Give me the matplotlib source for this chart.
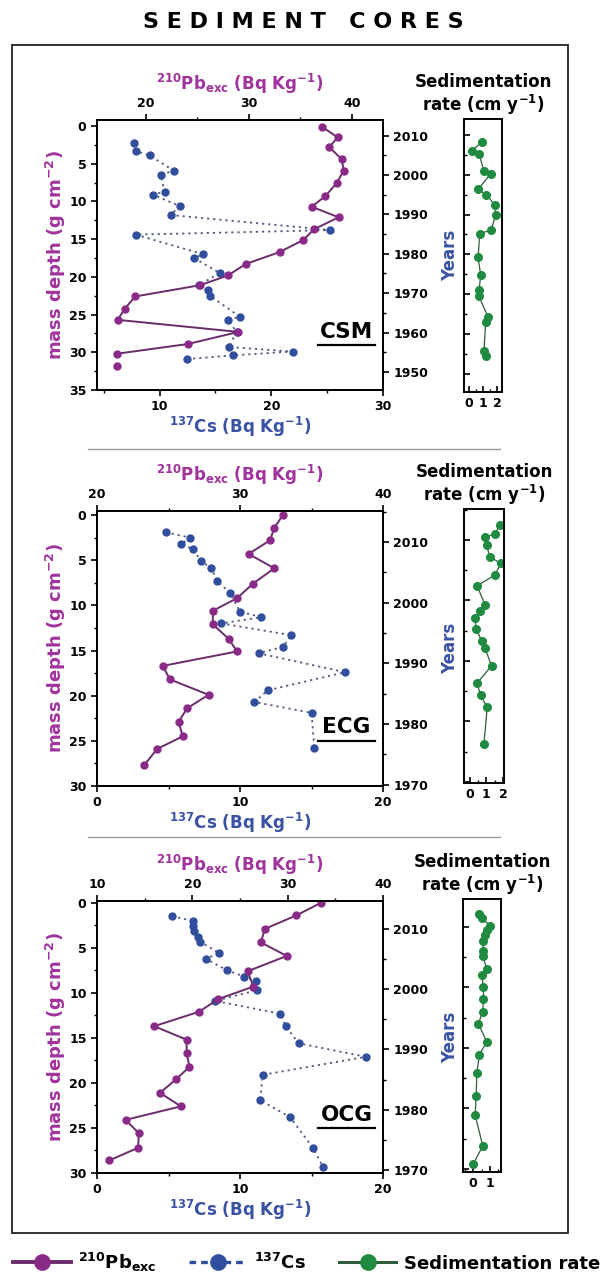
import matplotlib
matplotlib.use('Agg')
import matplotlib.pyplot as plt
from matplotlib.lines import Line2D
from matplotlib.patches import Rectangle
from matplotlib.ticker import MultipleLocator

plt.rcParams['font.family'] = ['DejaVu Sans']
plt.rcParams['font.weight'] = 'bold'
plt.rcParams['axes.labelweight'] = 'bold'
plt.rcParams['axes.titleweight'] = 'bold'
plt.rcParams['mathtext.fontset'] = 'dejavusans'
plt.rcParams['mathtext.default'] = 'bf'

# ---- CSM core ----
csm_pb_depth = [0.1, 1.5, 2.8, 4.4, 5.9, 7.6, 9.3, 10.7, 12.1, 13.7, 15.1, 16.7, 18.3, 19.8,
                21.1, 22.6, 24.2, 25.7, 27.3, 28.9, 30.2, 31.8]
csm_pb = [37.1, 38.6, 37.8, 39.0, 39.2, 38.5, 37.4, 36.1, 38.7, 36.3, 35.3, 33.0, 29.7, 28.0,
          25.3, 19.0, 18.0, 17.3, 29.0, 24.1, 17.2, 17.2]
csm_cs_depth = [2.3, 3.3, 3.9, 5.9, 6.5, 8.7, 9.1, 10.6, 11.8, 13.8, 14.4, 17.0, 17.5, 19.5,
                21.1, 21.8, 22.5, 25.3, 25.7, 27.3, 29.3, 29.9, 30.4, 30.9]
csm_cs = [7.7, 7.85, 9.1, 11.25, 10.1, 10.45, 9.4, 11.8, 11.0, 25.3, 7.85, 13.9, 13.1, 15.4,
          13.5, 14.3, 14.5, 17.2, 16.1, 16.9, 16.2, 21.9, 16.6, 12.5]
csm_year = [2008.3, 2006.0, 2005.3, 2001.0, 2000.2, 1996.3, 1995.0, 1992.5, 1989.9, 1986.1,
            1985.2, 1979.2, 1974.7, 1971.1, 1969.4, 1964.3, 1963.0, 1955.7, 1954.4]
csm_rate = [0.96, 0.19, 0.72, 1.05, 1.54, 0.65, 1.24, 1.82, 1.89, 1.59, 0.77, 0.65, 0.84,
            0.72, 0.72, 1.35, 1.19, 1.07, 1.19]

# ---- ECG core ----
ecg_pb_depth = [0, 1.4, 2.8, 4.3, 5.9, 7.6, 9.2, 10.6, 12.1, 13.7, 15.1, 16.7, 18.2, 19.9,
                21.4, 22.9, 24.5, 25.9, 27.7]
ecg_pb = [33.0, 32.4, 32.1, 30.6, 32.4, 30.9, 29.8, 28.1, 28.1, 29.2, 29.8, 24.6, 25.1, 27.8,
          26.3, 25.7, 26.0, 24.2, 23.3]
ecg_cs_depth = [1.9, 2.5, 3.2, 3.8, 5.1, 5.9, 7.3, 8.6, 10.7, 11.3, 12.0, 13.3, 14.6, 15.3,
                17.4, 19.4, 20.7, 21.9, 25.8]
ecg_cs = [4.8, 6.5, 5.9, 6.7, 7.3, 8.0, 8.4, 9.3, 10.0, 11.5, 8.7, 13.6, 13.0, 11.3, 17.35,
          11.95, 11.0, 15.0, 15.2]
ecg_year = [2012.5, 2011.0, 2010.4, 2009.1, 2007.2, 2006.1, 2004.2, 2002.4, 1999.3, 1998.2,
            1997.1, 1995.2, 1993.3, 1992.1, 1989.2, 1986.3, 1984.3, 1982.3, 1976.3]
ecg_rate = [1.82, 1.52, 0.91, 1.01, 1.21, 1.86, 1.52, 0.44, 0.91, 0.61, 0.30, 0.40, 0.71,
            0.91, 1.31, 0.44, 0.65, 1.05, 0.85]

# ---- OCG core ----
ocg_pb_depth = [0, 1.4, 2.9, 4.4, 5.9, 7.6, 9.3, 10.7, 12.1, 13.7, 15.2, 16.7, 18.2, 19.6,
                21.1, 22.6, 24.1, 25.6, 27.2, 28.6]
ocg_pb = [33.5, 30.9, 27.6, 27.2, 29.9, 25.8, 26.4, 22.7, 20.7, 16.0, 19.4, 19.4, 19.7, 18.3,
          16.6, 18.8, 13.0, 14.4, 14.3, 11.3]
ocg_cs_depth = [1.5, 2.0, 2.6, 3.1, 3.8, 4.3, 5.6, 6.2, 7.5, 8.2, 8.7, 9.7, 10.9, 12.3, 13.7,
                15.6, 17.1, 19.1, 21.9, 23.8, 27.2, 29.3]
ocg_cs = [5.25, 6.7, 6.7, 6.8, 7.05, 7.2, 8.55, 7.6, 9.1, 10.3, 11.1, 11.2, 8.25, 12.8, 13.2,
          14.1, 18.8, 11.6, 11.4, 13.5, 15.1, 15.8]
ocg_year = [2012.2, 2011.5, 2010.2, 2009.4, 2008.7, 2007.7, 2006.0, 2005.2, 2003.0, 2002.1,
            2000.0, 1998.0, 1996.0, 1994.0, 1991.0, 1988.9, 1985.9, 1982.1, 1978.9, 1973.8,
            1970.9]
ocg_rate = [0.37, 0.51, 1.0, 0.81, 0.71, 0.61, 0.57, 0.57, 0.81, 0.51, 0.61, 0.61, 0.57, 0.31,
            0.81, 0.37, 0.22, 0.18, 0.12, 0.57, 0.02]

PB_LINE = '#6a2c6a'
PB_MARK = '#8a2a88'
PB_TEXT = '#a0329c'
CS_LINE = '#4d5a7e'
CS_MARK = '#2f4e9c'
CS_TEXT = '#3a52a3'
SED_LINE = '#2f5c3a'
SED_MARK = '#1f8a40'

W, H = 607, 1277


def rect(x0, x1, y0, y1):
    # pixel box -> figure fraction
    return [x0 / W, 1 - y1 / H, (x1 - x0) / W, (y1 - y0) / H]


def style_axis(ax):
    for s in ax.spines.values():
        s.set_linewidth(1.4)
    ax.tick_params(which='major', labelsize=9, width=1.2, length=4)
    ax.tick_params(which='minor', width=1.0, length=2.5)


def draw_core(fig, box, sed_box, core):
    ax = fig.add_axes(rect(*box))
    ax_pb = ax.twiny()
    ax_yr = ax.twinx()

    # 137Cs (bottom axis)
    ax.plot(core['cs'], core['cs_depth'], linestyle=(0, (1.2, 2.2)), color=CS_LINE,
            linewidth=1.3, marker='o', markersize=5, markerfacecolor=CS_MARK,
            markeredgecolor=CS_MARK, zorder=2)
    # 210Pb (top axis)
    n = core['pb_break']
    ax_pb.plot(core['pb'][:n], core['pb_depth'][:n], '-', color=PB_LINE, linewidth=1.4)
    ax_pb.plot(core['pb'], core['pb_depth'], 'o', markersize=5, color=PB_MARK)

    ax.set_xlim(*core['cs_lim'])
    ax.set_ylim(*core['depth_lim'])
    ax.xaxis.set_major_locator(MultipleLocator(10))
    ax.xaxis.set_minor_locator(MultipleLocator(5))
    ax.yaxis.set_major_locator(MultipleLocator(5))
    ax.yaxis.set_minor_locator(MultipleLocator(2.5))
    ax.set_xlabel('$^{137}$Cs (Bq Kg$^{-1}$)', color=CS_TEXT, fontsize=12, labelpad=1)
    ax.set_ylabel('mass depth (g cm$^{-2}$)', color=PB_TEXT, fontsize=13, labelpad=1)

    ax_pb.set_xlim(*core['pb_lim'])
    ax_pb.xaxis.set_major_locator(MultipleLocator(10))
    ax_pb.xaxis.set_minor_locator(MultipleLocator(5))
    ax_pb.set_xlabel('$^{210}$Pb$_{exc}$ (Bq Kg$^{-1}$)', color=PB_TEXT, fontsize=12,
                     labelpad=5)

    ax_yr.set_ylim(*core['year_lim'])
    ax_yr.yaxis.set_major_locator(MultipleLocator(10))
    ax_yr.yaxis.set_minor_locator(MultipleLocator(5))
    ax_yr.set_ylabel('Years', color=CS_TEXT, fontsize=12, labelpad=9)

    for a in (ax, ax_pb, ax_yr):
        style_axis(a)

    # core name, underlined
    ax.text(0.872, 0.215, core['name'], transform=ax.transAxes, ha='center', va='center',
            fontsize=15.5, color='black')
    ax.add_line(Line2D([0.772, 0.972], [0.165, 0.165], transform=ax.transAxes,
                       color='black', linewidth=1.6))

    # sedimentation rate panel
    axs = fig.add_axes(rect(*sed_box))
    axs.plot(core['rate'], core['year'], '-', color=SED_LINE, linewidth=0.9,
             marker='o', markersize=5.5, markerfacecolor=SED_MARK, markeredgecolor=SED_MARK)
    axs.set_ylim(*core['year_lim'])
    axs.set_xlim(*core['rate_lim'])
    axs.yaxis.set_major_locator(MultipleLocator(10))
    axs.yaxis.set_minor_locator(MultipleLocator(5))
    axs.xaxis.set_major_locator(MultipleLocator(1))
    axs.xaxis.set_minor_locator(MultipleLocator(0.5))
    axs.set_yticklabels([])
    style_axis(axs)
    axs.tick_params(which='both', direction='in')
    axs.set_title('Sedimentation\nrate (cm y$^{-1}$)', fontsize=12, pad=6,
                  linespacing=1.1, x=0.5)


def main():
    fig = plt.figure(figsize=(W / 100, H / 100), dpi=100)

    fig.text(0.5, 1 - 22 / H, 'S E D I M E N T   C O R E S', ha='center', va='center',
             fontsize=16, fontweight='heavy')
    fig.add_artist(Rectangle((12 / W, 1 - 1233 / H), (568 - 12) / W, (1233 - 45) / H,
                             transform=fig.transFigure, fill=False, linewidth=1.3,
                             edgecolor='#222222'))
    for y in (449, 837):
        fig.add_artist(Line2D([88 / W, 500 / W], [1 - y / H, 1 - y / H],
                              transform=fig.transFigure, color='#999999', linewidth=1.0))

    csm = dict(name='CSM', pb=csm_pb, pb_depth=csm_pb_depth, pb_break=21,
               cs=csm_cs, cs_depth=csm_cs_depth, year=csm_year, rate=csm_rate,
               cs_lim=(4.4, 30), pb_lim=(15.3, 43), depth_lim=(35, -0.8),
               year_lim=(1945.4, 2014), rate_lim=(-0.35, 2.35))
    ecg = dict(name='ECG', pb=ecg_pb, pb_depth=ecg_pb_depth, pb_break=len(ecg_pb),
               cs=ecg_cs, cs_depth=ecg_cs_depth, year=ecg_year, rate=ecg_rate,
               cs_lim=(0, 20), pb_lim=(20, 40), depth_lim=(30, -0.45),
               year_lim=(1969.8, 2015.1), rate_lim=(-0.35, 2.06))
    ocg = dict(name='OCG', pb=ocg_pb, pb_depth=ocg_pb_depth, pb_break=len(ocg_pb),
               cs=ocg_cs, cs_depth=ocg_cs_depth, year=ocg_year, rate=ocg_rate,
               cs_lim=(0, 20), pb_lim=(10, 40), depth_lim=(30, -0.2),
               year_lim=(1969.5, 2014.6), rate_lim=(-0.6, 1.65))

    draw_core(fig, (97, 383, 120, 390), (464, 502, 119, 392), csm)
    draw_core(fig, (97, 383, 511, 786), (464, 504, 509, 783), ecg)
    draw_core(fig, (97, 383, 901, 1173), (463, 501, 899, 1172), ocg)

    handles = [
        Line2D([], [], color=PB_LINE, linewidth=2.8, marker='o', markersize=11,
               markerfacecolor=PB_MARK, markeredgecolor=PB_MARK),
        Line2D([], [], color=CS_MARK, linewidth=2.4, linestyle=(0, (2, 1.5)), marker='o',
               markersize=11, markerfacecolor=CS_MARK, markeredgecolor=CS_MARK),
        Line2D([], [], color=SED_LINE, linewidth=2.2, marker='o', markersize=11,
               markerfacecolor=SED_MARK, markeredgecolor=SED_MARK),
    ]
    labels = ['$^{210}$Pb$_{exc}$', '$^{137}$Cs', 'Sedimentation rate']
    fig.legend(handles, labels, loc='center', bbox_to_anchor=(0.505, 1 - 1262 / H), ncol=3,
               frameon=False, fontsize=13, handlelength=3.2, columnspacing=1.8,
               handletextpad=0.4)

    fig.savefig('out.png', dpi=100)


if __name__ == '__main__':
    main()
